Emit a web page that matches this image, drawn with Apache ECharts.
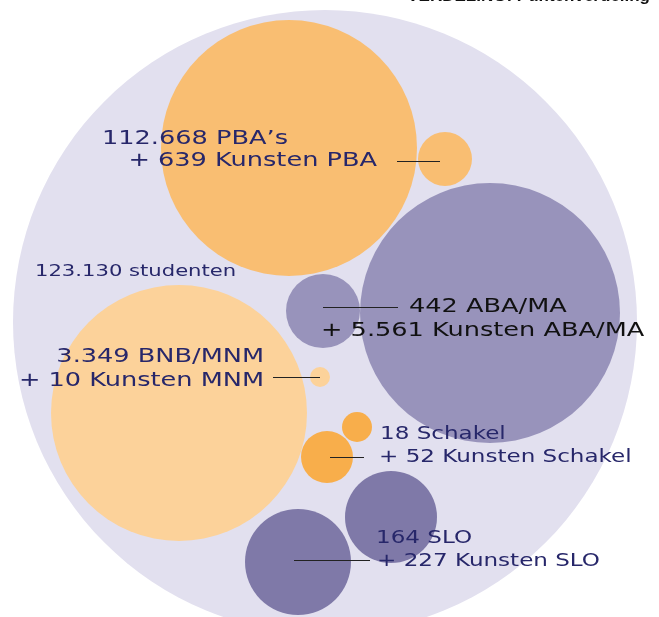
<!DOCTYPE html>
<html>
<head>
<meta charset="utf-8">
<script src="https://cdn.jsdelivr.net/npm/echarts@6/dist/echarts.min.js"></script>
<style>
  html, body { margin: 0; padding: 0; background: #fff; }
  #chart { width: 659px; height: 617px; }
</style>
</head>
<body>
<div id="chart"></div>
<script>
// bubble names and student counts
const groups = ['totaal', 'PBA', 'Kunsten PBA', 'ABA/MA', 'Kunsten ABA/MA', 'BNB/MNM', 'Kunsten MNM', 'Schakel', 'Kunsten Schakel', 'SLO', 'Kunsten SLO']
const counts = [123130, 112668, 639, 442, 5561, 3349, 10, 18, 52, 164, 227]
// bubble layout (x, y, radius in chart units)
const posX = [325, 289, 445, 323, 490, 179, 320, 357, 327, 391, 298]
const posY = [322, 148, 159, 311, 313, 413, 377, 427, 457, 517, 562]
const radius = [312, 128, 27, 37, 130, 128, 10, 15, 26, 46, 53]
const fills = ['#e2e0ef', '#f9be72', '#f9be72', '#9893bb', '#9893bb', '#fcd29a', '#fcd29a', '#f8ae4b', '#f8ae4b', '#7f79a8', '#7f79a8']

const navy = '#27276a'
const font = 'DejaVu Sans'

let chart = echarts.init(document.getElementById('chart'))

let bubbles = groups.map((g, i) => ({
  name: g,
  value: [posX[i], posY[i], counts[i]],
  symbolSize: radius[i] * 2,
  itemStyle: { color: fills[i], opacity: 1 }
}))

// leader lines from a bubble to its label
const leaders = [
  [[397, 161], [440, 161]],
  [[323, 307], [398, 307]],
  [[273, 377], [320, 377]],
  [[330, 457], [364, 457]],
  [[294, 560], [370, 560]]
]

// label text, stretched a bit to get the wide spacing of the original type
function txt(x, y, text, size, align, color) {
  return {
    type: 'text', x, y, z: 100, scaleX: 1.28,
    style: { text, font: size + 'px ' + font, fill: color || navy, textAlign: align || 'left', textVerticalAlign: 'middle' }
  }
}

let option = {
  animation: false,
  grid: { left: 0, right: 0, top: 0, bottom: 0 },
  xAxis: { type: 'value', min: 0, max: 659, show: false },
  yAxis: { type: 'value', min: 0, max: 617, inverse: true, show: false },
  series: [{
    type: 'scatter',
    symbol: 'circle',
    data: bubbles,
    silent: true,
    markLine: {
      symbol: 'none',
      silent: true,
      label: { show: false },
      lineStyle: { color: '#222', width: 1, type: 'solid', opacity: 1 },
      data: leaders.map(l => [{ coord: l[0] }, { coord: l[1] }])
    }
  }],
  graphic: [
    { type: 'text', x: 650, y: -12, z: 100, style: { text: 'VERDELING: Puntenverdeling', font: 'bold 17px Liberation Sans', fill: '#111', textAlign: 'right' } },
    txt(102, 139, '112.668 PBA’s', 20),
    txt(377, 161, '+ 639 Kunsten PBA', 20, 'right'),
    txt(35, 272, '123.130 studenten', 16.5),
    txt(409, 307, '442 ABA/MA', 20, 'left', '#111'),
    txt(321, 331, '+ 5.561 Kunsten ABA/MA', 20, 'left', '#111'),
    txt(264, 357, '3.349 BNB/MNM', 20, 'right'),
    txt(264, 381, '+ 10 Kunsten MNM', 20, 'right'),
    txt(380, 434, '18 Schakel', 18),
    txt(379, 457, '+ 52 Kunsten Schakel', 18),
    txt(376, 538, '164 SLO', 18),
    txt(377, 561, '+ 227 Kunsten SLO', 18)
  ]
}

chart.setOption(option)
</script>
</body>
</html>
